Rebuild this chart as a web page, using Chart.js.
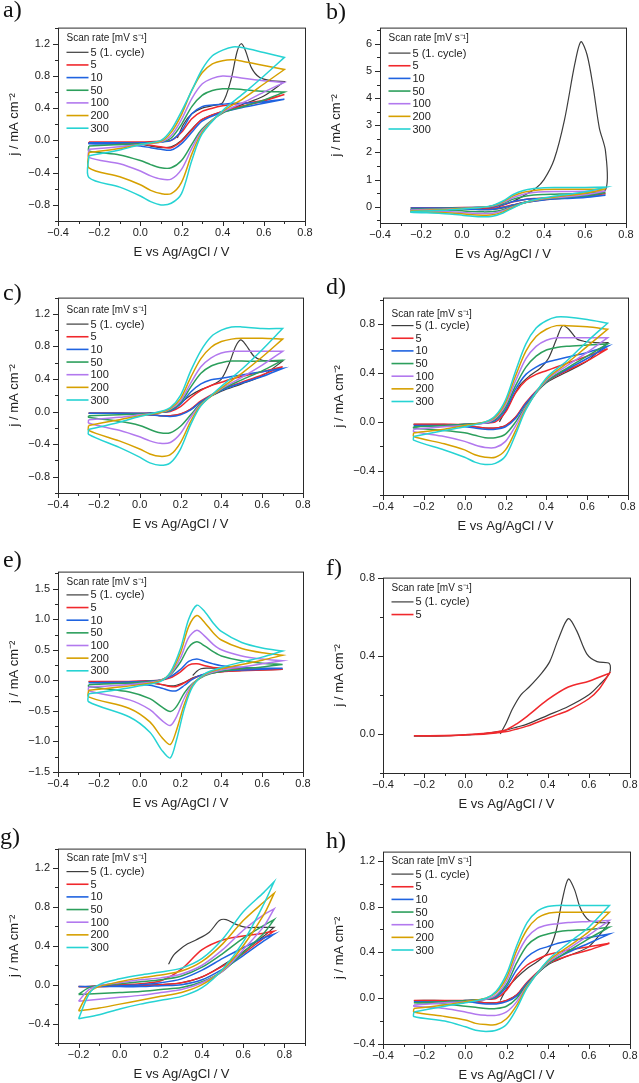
<!DOCTYPE html>
<html>
<head>
<meta charset="utf-8">
<script src="https://cdn.jsdelivr.net/npm/chart.js@4.4.1/dist/chart.umd.min.js"></script>
<style>
  body { margin: 0; width: 639px; height: 1083px; background: #fff; position: relative; overflow: hidden; }
  canvas { position: absolute; }
  .lbl { position: absolute; font-family: 'Liberation Serif', 'Times New Roman', serif; font-size: 24px; line-height: 24px; color: #111; }
</style>
</head>
<body>
<script>
// legend entries and colours
const SERIES = ['5 (1. cycle)', '5', '10', '50', '100', '200', '300'];
const COLORS = ['#3d3d3d', '#f0282c', '#1f63e0', '#2c9f5c', '#b279ee', '#d6a000', '#26d3d3'];

// potential grids (V) shared by panels a, b, c, d, h
const E_FWD = [-0.25, -0.1, 0.0, 0.1, 0.15, 0.2, 0.25, 0.3, 0.35, 0.4, 0.45, 0.5, 0.6, 0.7];
const E_REV = [0.7, 0.6, 0.5, 0.4, 0.3, 0.25, 0.2, 0.15, 0.1, 0.05, 0.0, -0.1, -0.25];

// ---- panel a ----
const A_FIRST_E = [0.18, 0.21, 0.25, 0.3, 0.35, 0.4, 0.44, 0.47, 0.49, 0.51, 0.54, 0.58, 0.64, 0.7];
const A_FIRST_J = [0.03, 0.2, 0.33, 0.4, 0.43, 0.47, 0.75, 1.1, 1.2, 1.12, 0.9, 0.78, 0.74, 0.73];
const A_FWD = [
  [-0.02, -0.02, -0.02, -0.01, 0.0, 0.1, 0.27, 0.36, 0.4, 0.43, 0.45, 0.46, 0.5, 0.57],
  [-0.03, -0.03, -0.03, -0.02, 0.0, 0.12, 0.33, 0.42, 0.44, 0.45, 0.46, 0.46, 0.48, 0.51],
  [-0.07, -0.05, -0.04, -0.02, 0.03, 0.2, 0.42, 0.56, 0.62, 0.64, 0.64, 0.63, 0.61, 0.6],
  [-0.11, -0.08, -0.05, -0.02, 0.06, 0.26, 0.52, 0.7, 0.77, 0.8, 0.79, 0.77, 0.74, 0.72],
  [-0.15, -0.1, -0.05, -0.01, 0.1, 0.32, 0.62, 0.84, 0.95, 0.99, 1.0, 0.98, 0.93, 0.88],
  [-0.19, -0.12, -0.05, 0.0, 0.13, 0.36, 0.62, 0.88, 1.05, 1.12, 1.16, 1.15, 1.09, 1.03]
];
const A_REV = [
  [0.73, 0.55, 0.45, 0.36, 0.26, 0.14, 0.0, -0.08, -0.09, -0.07, -0.05, -0.04, -0.03],
  [0.57, 0.49, 0.43, 0.36, 0.26, 0.13, -0.01, -0.09, -0.08, -0.06, -0.04, -0.03, -0.03],
  [0.51, 0.46, 0.41, 0.35, 0.24, 0.1, -0.04, -0.12, -0.11, -0.09, -0.07, -0.05, -0.04],
  [0.6, 0.5, 0.42, 0.34, 0.14, -0.05, -0.25, -0.34, -0.34, -0.3, -0.25, -0.18, -0.13],
  [0.72, 0.6, 0.47, 0.35, 0.12, -0.1, -0.36, -0.48, -0.48, -0.44, -0.38, -0.29, -0.21],
  [0.88, 0.7, 0.52, 0.36, 0.1, -0.17, -0.52, -0.66, -0.66, -0.62, -0.55, -0.45, -0.34],
  [1.03, 0.8, 0.58, 0.37, 0.08, -0.25, -0.66, -0.78, -0.8, -0.76, -0.69, -0.58, -0.46]
];

// ---- panel b ----
const B_FIRST_E = [0.18, 0.25, 0.3, 0.36, 0.4, 0.45, 0.5, 0.55, 0.58, 0.61, 0.64, 0.67, 0.7];
const B_FIRST_J = [0.0, 0.2, 0.4, 0.68, 1.0, 1.75, 3.2, 5.25, 6.08, 5.6, 4.4, 2.9, 2.05];
const B_FWD = [
  [-0.04, -0.04, -0.03, -0.02, 0.0, 0.07, 0.18, 0.26, 0.3, 0.32, 0.34, 0.36, 0.42, 0.48],
  [-0.05, -0.05, -0.04, -0.02, 0.0, 0.08, 0.19, 0.26, 0.29, 0.31, 0.33, 0.35, 0.38, 0.42],
  [-0.09, -0.07, -0.05, -0.02, 0.02, 0.12, 0.28, 0.38, 0.43, 0.45, 0.46, 0.47, 0.49, 0.52],
  [-0.12, -0.09, -0.06, -0.02, 0.03, 0.15, 0.34, 0.46, 0.52, 0.55, 0.56, 0.56, 0.57, 0.58],
  [-0.15, -0.11, -0.07, -0.02, 0.04, 0.18, 0.4, 0.53, 0.6, 0.63, 0.64, 0.64, 0.64, 0.65],
  [-0.18, -0.13, -0.08, -0.02, 0.05, 0.21, 0.45, 0.6, 0.67, 0.7, 0.71, 0.71, 0.71, 0.72]
];
const B_REV = [
  [0.62, 0.5, 0.4, 0.31, 0.16, 0.06, -0.04, -0.1, -0.11, -0.09, -0.07, -0.05, -0.05],
  [0.48, 0.38, 0.32, 0.26, 0.15, 0.07, -0.01, -0.06, -0.07, -0.06, -0.05, -0.04, -0.04],
  [0.42, 0.34, 0.3, 0.25, 0.15, 0.06, -0.03, -0.09, -0.1, -0.09, -0.07, -0.06, -0.05],
  [0.52, 0.4, 0.34, 0.28, 0.14, 0.02, -0.11, -0.18, -0.19, -0.18, -0.15, -0.12, -0.1],
  [0.58, 0.44, 0.36, 0.29, 0.14, 0.0, -0.15, -0.24, -0.25, -0.24, -0.21, -0.17, -0.14],
  [0.65, 0.5, 0.4, 0.31, 0.14, -0.02, -0.19, -0.3, -0.31, -0.3, -0.26, -0.21, -0.17],
  [0.72, 0.55, 0.44, 0.33, 0.14, -0.04, -0.23, -0.35, -0.37, -0.35, -0.31, -0.25, -0.2]
];

// ---- panel c ----
const C_FIRST_E = [0.165, 0.2, 0.25, 0.3, 0.35, 0.4, 0.44, 0.47, 0.495, 0.52, 0.56, 0.6, 0.65, 0.7];
const C_FIRST_J = [0.02, 0.1, 0.2, 0.27, 0.32, 0.4, 0.6, 0.8, 0.88, 0.82, 0.68, 0.63, 0.62, 0.62];
const C_FWD = [
  [-0.02, -0.02, -0.02, -0.01, 0.0, 0.06, 0.17, 0.26, 0.32, 0.36, 0.4, 0.43, 0.49, 0.55],
  [-0.02, -0.02, -0.02, -0.01, 0.01, 0.09, 0.24, 0.34, 0.39, 0.41, 0.43, 0.45, 0.49, 0.53],
  [-0.05, -0.04, -0.03, -0.01, 0.02, 0.11, 0.3, 0.47, 0.56, 0.6, 0.62, 0.62, 0.62, 0.63],
  [-0.1, -0.07, -0.04, -0.01, 0.03, 0.13, 0.35, 0.55, 0.66, 0.72, 0.74, 0.74, 0.74, 0.74],
  [-0.17, -0.1, -0.05, -0.01, 0.04, 0.16, 0.42, 0.65, 0.79, 0.86, 0.89, 0.9, 0.9, 0.89],
  [-0.22, -0.13, -0.06, 0.0, 0.05, 0.2, 0.5, 0.75, 0.92, 1.0, 1.04, 1.04, 1.02, 1.02]
];
const C_REV = [
  [0.62, 0.44, 0.34, 0.25, 0.12, 0.03, -0.03, -0.05, -0.05, -0.04, -0.03, -0.02, -0.02],
  [0.55, 0.45, 0.36, 0.27, 0.13, 0.03, -0.03, -0.05, -0.05, -0.04, -0.03, -0.02, -0.02],
  [0.53, 0.43, 0.35, 0.26, 0.12, 0.02, -0.04, -0.06, -0.05, -0.04, -0.03, -0.02, -0.02],
  [0.63, 0.5, 0.39, 0.27, 0.1, -0.04, -0.18, -0.26, -0.26, -0.22, -0.17, -0.12, -0.07],
  [0.74, 0.57, 0.42, 0.28, 0.09, -0.07, -0.27, -0.38, -0.39, -0.36, -0.31, -0.23, -0.14],
  [0.89, 0.67, 0.47, 0.29, 0.08, -0.12, -0.38, -0.53, -0.55, -0.52, -0.46, -0.36, -0.23],
  [1.02, 0.76, 0.52, 0.31, 0.07, -0.16, -0.46, -0.63, -0.66, -0.63, -0.56, -0.44, -0.28]
];

// ---- panel d ----
const D_FIRST_E = [0.17, 0.22, 0.27, 0.32, 0.37, 0.41, 0.45, 0.48, 0.51, 0.55, 0.59, 0.64, 0.7];
const D_FIRST_J = [0.0, 0.15, 0.3, 0.38, 0.44, 0.52, 0.68, 0.79, 0.76, 0.68, 0.66, 0.65, 0.65];
const D_FWD = [
  [-0.02, -0.02, -0.02, -0.01, 0.0, 0.08, 0.24, 0.34, 0.39, 0.42, 0.45, 0.48, 0.54, 0.6],
  [-0.03, -0.03, -0.02, -0.01, 0.01, 0.1, 0.27, 0.39, 0.45, 0.49, 0.51, 0.53, 0.57, 0.62],
  [-0.04, -0.03, -0.02, -0.01, 0.02, 0.12, 0.3, 0.45, 0.54, 0.59, 0.61, 0.62, 0.63, 0.64],
  [-0.06, -0.04, -0.03, -0.01, 0.03, 0.14, 0.34, 0.52, 0.62, 0.67, 0.69, 0.69, 0.69, 0.69],
  [-0.09, -0.06, -0.03, 0.0, 0.04, 0.16, 0.38, 0.58, 0.7, 0.76, 0.79, 0.79, 0.78, 0.76],
  [-0.12, -0.07, -0.04, 0.0, 0.05, 0.18, 0.42, 0.64, 0.77, 0.83, 0.86, 0.86, 0.84, 0.81]
];
const D_REV = [
  [0.65, 0.5, 0.41, 0.32, 0.15, 0.04, -0.03, -0.05, -0.05, -0.04, -0.03, -0.02, -0.02],
  [0.6, 0.5, 0.42, 0.33, 0.16, 0.04, -0.03, -0.05, -0.05, -0.04, -0.03, -0.02, -0.02],
  [0.62, 0.52, 0.43, 0.33, 0.15, 0.03, -0.04, -0.06, -0.06, -0.05, -0.04, -0.03, -0.03],
  [0.64, 0.54, 0.44, 0.33, 0.13, 0.0, -0.1, -0.13, -0.13, -0.11, -0.09, -0.07, -0.05],
  [0.69, 0.57, 0.46, 0.34, 0.12, -0.03, -0.16, -0.21, -0.21, -0.19, -0.16, -0.12, -0.08],
  [0.76, 0.62, 0.48, 0.35, 0.11, -0.07, -0.23, -0.29, -0.29, -0.27, -0.23, -0.18, -0.12],
  [0.81, 0.66, 0.5, 0.36, 0.1, -0.1, -0.28, -0.34, -0.35, -0.33, -0.29, -0.23, -0.15]
];

// ---- panel e ----
const E_FWD_E = [-0.25, -0.1, 0.0, 0.1, 0.15, 0.2, 0.24, 0.28, 0.32, 0.36, 0.4, 0.5, 0.6, 0.7];
const E_REV_E = [0.7, 0.6, 0.5, 0.4, 0.32, 0.26, 0.22, 0.18, 0.15, 0.11, 0.05, -0.05, -0.25];
const E_FIRST_E = [0.26, 0.28, 0.3, 0.33, 0.4, 0.5, 0.6, 0.7];
const E_FIRST_J = [0.08, 0.15, 0.19, 0.2, 0.2, 0.19, 0.18, 0.18];
const E_FWD_J = [
  [-0.02, -0.02, -0.01, 0.0, 0.04, 0.14, 0.25, 0.27, 0.24, 0.21, 0.2, 0.19, 0.18, 0.18],
  [-0.04, -0.03, -0.02, 0.0, 0.06, 0.18, 0.31, 0.35, 0.31, 0.27, 0.24, 0.21, 0.2, 0.2],
  [-0.07, -0.05, -0.03, 0.0, 0.09, 0.3, 0.54, 0.63, 0.56, 0.47, 0.4, 0.32, 0.28, 0.26],
  [-0.11, -0.08, -0.05, 0.0, 0.1, 0.37, 0.7, 0.82, 0.72, 0.59, 0.5, 0.4, 0.35, 0.32],
  [-0.16, -0.11, -0.07, -0.01, 0.12, 0.45, 0.88, 1.06, 0.94, 0.78, 0.66, 0.52, 0.45, 0.41],
  [-0.22, -0.15, -0.09, -0.02, 0.13, 0.52, 1.0, 1.23, 1.12, 0.94, 0.8, 0.62, 0.53, 0.48]
];
const E_REV_J = [
  [0.18, 0.17, 0.16, 0.14, 0.1, 0.04, -0.03, -0.08, -0.09, -0.07, -0.04, -0.03, -0.02],
  [0.18, 0.17, 0.16, 0.14, 0.1, 0.03, -0.04, -0.1, -0.1, -0.07, -0.04, -0.03, -0.02],
  [0.2, 0.18, 0.17, 0.15, 0.11, 0.02, -0.08, -0.17, -0.17, -0.13, -0.08, -0.05, -0.04],
  [0.26, 0.22, 0.19, 0.15, 0.08, -0.05, -0.2, -0.43, -0.51, -0.44, -0.3, -0.19, -0.1],
  [0.32, 0.27, 0.22, 0.17, 0.09, -0.06, -0.28, -0.6, -0.74, -0.66, -0.48, -0.32, -0.17],
  [0.41, 0.33, 0.26, 0.19, 0.1, -0.08, -0.38, -0.82, -1.05, -0.94, -0.68, -0.46, -0.27],
  [0.48, 0.38, 0.3, 0.21, 0.11, -0.1, -0.45, -0.98, -1.27, -1.15, -0.85, -0.6, -0.35]
];

// ---- panel f ----
const E_FWD_F = [-0.25, -0.1, 0.0, 0.1, 0.15, 0.2, 0.25, 0.3, 0.35, 0.4, 0.45, 0.5, 0.6, 0.65, 0.7];
const E_REV_F = [0.7, 0.65, 0.6, 0.5, 0.4, 0.3, 0.25, 0.2, 0.15, 0.1, 0.05, 0.0, -0.1, -0.25];
const F_FIRST_E = [0.17, 0.2, 0.23, 0.27, 0.31, 0.37, 0.41, 0.45, 0.5, 0.54, 0.59, 0.64, 0.7];
const F_FIRST_J = [0.0, 0.06, 0.13, 0.2, 0.24, 0.31, 0.37, 0.48, 0.59, 0.53, 0.41, 0.37, 0.36];
const F_FWD = [
  [-0.01, -0.01, -0.005, 0.0, 0.005, 0.012, 0.025, 0.04, 0.06, 0.08, 0.1, 0.12, 0.18, 0.23, 0.31]
];
const F_REV = [
  [0.31, 0.25, 0.2, 0.14, 0.095, 0.05, 0.035, 0.02, 0.01, 0.003, -0.002, -0.005, -0.01, -0.012],
  [0.31, 0.29, 0.27, 0.24, 0.175, 0.09, 0.052, 0.022, 0.01, 0.004, 0.0, -0.004, -0.008, -0.01]
];

// ---- panel g ----
const E_FWD_G = [-0.2, -0.15, -0.1, 0.0, 0.1, 0.2, 0.3, 0.4, 0.5, 0.6, 0.7, 0.75];
const E_REV_G = [0.75, 0.7, 0.6, 0.5, 0.4, 0.3, 0.2, 0.1, 0.0, -0.1, -0.2];
const G_FIRST_E = [0.237, 0.26, 0.29, 0.33, 0.37, 0.435, 0.484, 0.517, 0.565, 0.614, 0.68, 0.75];
const G_FIRST_J = [0.21, 0.3, 0.36, 0.42, 0.46, 0.54, 0.66, 0.67, 0.62, 0.59, 0.59, 0.59];
const G_FWD = [
  [-0.02, -0.02, -0.01, 0.0, 0.01, 0.04, 0.16, 0.36, 0.46, 0.5, 0.53, 0.55],
  [-0.02, -0.02, -0.02, -0.01, 0.0, 0.02, 0.06, 0.15, 0.27, 0.38, 0.48, 0.52],
  [-0.1, -0.03, -0.01, 0.01, 0.03, 0.05, 0.09, 0.18, 0.32, 0.48, 0.61, 0.67],
  [-0.17, -0.05, -0.01, 0.02, 0.05, 0.07, 0.11, 0.2, 0.36, 0.56, 0.72, 0.78],
  [-0.27, -0.08, -0.02, 0.03, 0.07, 0.1, 0.14, 0.24, 0.42, 0.66, 0.85, 0.94],
  [-0.35, -0.1, 0.0, 0.06, 0.1, 0.13, 0.17, 0.27, 0.47, 0.75, 0.95, 1.06]
];
const G_REV = [
  [0.59, 0.5, 0.34, 0.2, 0.08, 0.02, 0.0, -0.01, -0.01, -0.02, -0.02],
  [0.55, 0.48, 0.32, 0.19, 0.08, 0.02, 0.0, -0.01, -0.01, -0.02, -0.02],
  [0.52, 0.45, 0.3, 0.16, 0.05, 0.0, -0.01, -0.02, -0.02, -0.02, -0.02],
  [0.67, 0.53, 0.33, 0.14, 0.03, -0.03, -0.05, -0.07, -0.08, -0.09, -0.1],
  [0.78, 0.6, 0.36, 0.14, 0.02, -0.05, -0.08, -0.11, -0.13, -0.15, -0.17],
  [0.94, 0.72, 0.4, 0.15, 0.0, -0.08, -0.12, -0.16, -0.2, -0.24, -0.27],
  [1.06, 0.83, 0.44, 0.16, -0.03, -0.12, -0.16, -0.2, -0.25, -0.31, -0.35]
];

// ---- panel h ----
const H_FIRST_E = [0.17, 0.2, 0.25, 0.3, 0.35, 0.4, 0.44, 0.47, 0.5, 0.53, 0.56, 0.6, 0.65, 0.7];
const H_FIRST_J = [-0.02, 0.08, 0.18, 0.26, 0.32, 0.4, 0.58, 0.85, 1.04, 0.95, 0.78, 0.68, 0.66, 0.66];
const H_FWD = [
  [-0.02, -0.02, -0.02, -0.01, 0.0, 0.07, 0.2, 0.29, 0.34, 0.38, 0.4, 0.42, 0.45, 0.48],
  [-0.03, -0.03, -0.02, -0.01, 0.01, 0.1, 0.25, 0.36, 0.42, 0.45, 0.48, 0.5, 0.53, 0.56],
  [-0.04, -0.03, -0.02, -0.01, 0.02, 0.12, 0.31, 0.46, 0.53, 0.56, 0.58, 0.59, 0.6, 0.62],
  [-0.06, -0.04, -0.03, -0.01, 0.03, 0.15, 0.37, 0.53, 0.61, 0.64, 0.65, 0.66, 0.67, 0.68],
  [-0.09, -0.06, -0.03, 0.0, 0.05, 0.18, 0.42, 0.6, 0.7, 0.74, 0.75, 0.75, 0.75, 0.75],
  [-0.12, -0.07, -0.04, 0.0, 0.06, 0.21, 0.46, 0.66, 0.76, 0.8, 0.81, 0.81, 0.81, 0.81]
];
const H_REV = [
  [0.66, 0.45, 0.37, 0.29, 0.13, 0.03, -0.02, -0.04, -0.04, -0.03, -0.03, -0.02, -0.02],
  [0.48, 0.42, 0.37, 0.3, 0.14, 0.03, -0.02, -0.04, -0.04, -0.03, -0.03, -0.02, -0.02],
  [0.56, 0.48, 0.4, 0.3, 0.13, 0.02, -0.03, -0.05, -0.05, -0.04, -0.03, -0.03, -0.03],
  [0.62, 0.52, 0.41, 0.3, 0.12, 0.0, -0.07, -0.09, -0.09, -0.08, -0.07, -0.05, -0.04],
  [0.68, 0.55, 0.43, 0.31, 0.11, -0.03, -0.12, -0.15, -0.15, -0.14, -0.12, -0.09, -0.07],
  [0.75, 0.58, 0.45, 0.32, 0.1, -0.06, -0.18, -0.23, -0.23, -0.22, -0.19, -0.16, -0.12],
  [0.81, 0.62, 0.48, 0.33, 0.09, -0.09, -0.23, -0.28, -0.29, -0.28, -0.25, -0.2, -0.16]
];

const FONT = "'Liberation Sans', Arial, sans-serif";
Chart.defaults.font.family = FONT;
Chart.defaults.color = '#222';

// plot frame position on the page: [left, right, top, bottom]
// x: [min, max, minor, major], y: [min, max, minor, major, decimals]
const PANELS = [
  { name: 'a)', lbl: [3, -3], area: [58, 305, 23, 221], x: [-0.4, 0.8, 0.1, 0.2], y: [-1.0, 1.4, 0.2, 0.4, 1], leg: [10.7, 24.7],
    fE: E_FWD, rE: E_REV, firstE: A_FIRST_E, firstJ: A_FIRST_J, fwd: A_FWD, rev: A_REV },
  { name: 'b)', lbl: [326, -1], area: [380, 626, 23, 223], x: [-0.4, 0.8, 0.1, 0.2], y: [-0.6, 6.6, 0.5, 1, 0], leg: [10.7, 25.5],
    fE: E_FWD, rE: E_REV, firstE: B_FIRST_E, firstJ: B_FIRST_J, fwd: B_FWD, rev: B_REV },
  { name: 'c)', lbl: [3, 280], area: [58, 303, 293, 493], x: [-0.4, 0.8, 0.1, 0.2], y: [-1.0, 1.4, 0.2, 0.4, 1], leg: [12.3, 26.5],
    fE: E_FWD, rE: E_REV, firstE: C_FIRST_E, firstJ: C_FIRST_J, fwd: C_FWD, rev: C_REV },
  { name: 'd)', lbl: [326, 274], area: [383, 628, 293, 495], x: [-0.4, 0.8, 0.1, 0.2], y: [-0.6, 1.02, 0.2, 0.4, 1], leg: [16.5, 28],
    fE: E_FWD, rE: E_REV, firstE: D_FIRST_E, firstJ: D_FIRST_J, fwd: D_FWD, rev: D_REV },
  { name: 'e)', lbl: [3, 547], area: [58, 303, 567, 772], x: [-0.4, 0.8, 0.1, 0.2], y: [-1.5, 1.78, 0.25, 0.5, 1], leg: [10.7, 23.3],
    fE: E_FWD_E, rE: E_REV_E, firstE: E_FIRST_E, firstJ: E_FIRST_J, fwd: E_FWD_J, rev: E_REV_J },
  { name: 'f)', lbl: [326, 555], area: [383, 630, 573, 773], x: [-0.4, 0.8, 0.1, 0.2], y: [-0.2, 0.8, 0.2, 0.4, 1], leg: [11, 24.3],
    fE: E_FWD_F, rE: E_REV_F, firstE: F_FIRST_E, firstJ: F_FIRST_J, fwd: F_FWD, rev: F_REV },
  { name: 'g)', lbl: [0, 824], area: [58, 305, 844, 1043], x: [-0.3, 0.9, 0.1, 0.2], y: [-0.6, 1.4, 0.2, 0.4, 1], leg: [10, 23],
    fE: E_FWD_G, rE: E_REV_G, firstE: G_FIRST_E, firstJ: G_FIRST_J, fwd: G_FWD, rev: G_REV },
  { name: 'h)', lbl: [326, 828], area: [383, 630, 847, 1044], x: [-0.4, 0.8, 0.1, 0.2], y: [-0.4, 1.28, 0.2, 0.4, 1], leg: [10, 22.5],
    fE: E_FWD, rE: E_REV, firstE: H_FIRST_E, firstJ: H_FIRST_J, fwd: H_FWD, rev: H_REV }
];

const isMult = (v, s) => Math.abs(v / s - Math.round(v / s)) < 1e-6;
const fmt = (v, dec) => (v < -1e-9 ? '\u2212' : '') + Math.abs(v).toFixed(dec);

// every multiple of step inside [min, max]
function steps(min, max, step) {
  const out = [];
  for (let k = Math.ceil(min / step - 1e-6); k * step <= max + 1e-6; k++) out.push(Math.round(k * step * 1e6) / 1e6);
  return out;
}

function pts(es, js) {
  return es.map((x, i) => ({ x: x, y: js[i] }));
}

// box round the plot area plus outward major / minor ticks
const framePlugin = {
  id: 'frame',
  afterDatasetsDraw(chart) {
    const { ctx, chartArea: a, scales } = chart;
    const p = chart.options.plugins.frame;
    ctx.save();
    ctx.strokeStyle = '#2a2a2a';
    ctx.lineWidth = 1;
    ctx.strokeRect(a.left + 0.5, a.top + 0.5, a.right - a.left, a.bottom - a.top);
    ctx.beginPath();
    steps(p.x[0], p.x[1], p.x[2]).forEach(v => {
      const px = Math.round(scales.x.getPixelForValue(v)) + 0.5;
      const len = isMult(v, p.x[3]) ? 5 : 3;
      ctx.moveTo(px, a.bottom); ctx.lineTo(px, a.bottom + len);
    });
    steps(p.y[0], p.y[1], p.y[2]).forEach(v => {
      const py = Math.round(scales.y.getPixelForValue(v)) + 0.5;
      const len = isMult(v, p.y[3]) ? 5 : 3;
      ctx.moveTo(a.left, py); ctx.lineTo(a.left - len, py);
    });
    ctx.stroke();
    ctx.restore();
  }
};

// in-plot legend with its title
const legendPlugin = {
  id: 'cvlegend',
  afterDraw(chart) {
    const { ctx, chartArea: a } = chart;
    const o = chart.options.plugins.cvlegend;
    ctx.save();
    ctx.textBaseline = 'middle';
    ctx.fillStyle = '#222';
    ctx.font = '10px ' + FONT;
    ctx.fillText('Scan rate [mV s\u207B\u00B9]', a.left + 8.5, a.top + o.dy[0]);
    ctx.font = '11px ' + FONT;
    o.items.forEach((k, i) => {
      const y = a.top + o.dy[1] + i * 12.65;
      ctx.strokeStyle = COLORS[k];
      ctx.lineWidth = k === 0 ? 1.2 : 1.6;
      ctx.beginPath();
      ctx.moveTo(a.left + 8.5, y); ctx.lineTo(a.left + 30.5, y);
      ctx.stroke();
      ctx.fillText(SERIES[k], a.left + 32.5, y + 0.5);
    });
    ctx.restore();
  }
};

PANELS.forEach(p => {
  const [l, r, t, b] = p.area;
  const yW = 55, xH = 43, padT = 10, padR = 14, padB = 6;
  const cv = document.createElement('canvas');
  cv.width = (r - l) + yW + padR;
  cv.height = (b - t) + padT + xH + padB;
  cv.style.left = (l - yW) + 'px';
  cv.style.top = (t - padT) + 'px';
  document.body.appendChild(cv);

  const lab = document.createElement('div');
  lab.className = 'lbl';
  lab.textContent = p.name;
  lab.style.left = p.lbl[0] + 'px';
  lab.style.top = p.lbl[1] + 'px';
  document.body.appendChild(lab);

  const items = [];
  const datasets = [];
  const n = p.rev.length;
  for (let k = 0; k < n; k++) {
    items.push(k);
    let data;
    if (k === 0) {
      data = pts(p.firstE, p.firstJ).concat(pts(p.rE, p.rev[0]));
    } else {
      const f = p.fwd[k - 1];
      data = pts(p.fE, f).concat(pts(p.rE, p.rev[k]));
      data.push({ x: p.fE[0], y: f[0] });
    }
    datasets.unshift({
      label: SERIES[k],
      data: data,
      showLine: true,
      borderColor: COLORS[k],
      borderWidth: k === 0 ? 1.2 : 1.5,
      pointRadius: 0,
      tension: 0.3,
      fill: false
    });
  }

  new Chart(cv.getContext('2d'), {
    type: 'scatter',
    data: { datasets: datasets },
    options: {
      responsive: false,
      animation: false,
      devicePixelRatio: 1,
      layout: { padding: { left: 0, top: padT, right: padR, bottom: padB } },
      plugins: {
        legend: { display: false },
        tooltip: { enabled: false },
        frame: { x: p.x, y: p.y },
        cvlegend: { dy: p.leg, items: items }
      },
      scales: {
        x: {
          type: 'linear',
          min: p.x[0], max: p.x[1],
          grid: { display: false, drawTicks: false },
          border: { display: false },
          afterFit: s => { s.height = xH; },
          afterBuildTicks: s => { s.ticks = steps(p.x[0], p.x[1], p.x[3]).map(v => ({ value: v })); },
          ticks: {
            autoSkip: false, maxRotation: 0, padding: 5,
            font: { size: 11 }, color: '#222',
            callback: v => fmt(v, 1)
          },
          title: { display: true, text: 'E vs Ag/AgCl / V', font: { size: 13 }, color: '#222', padding: { top: 0, bottom: 4 } }
        },
        y: {
          type: 'linear',
          min: p.y[0], max: p.y[1],
          grid: { display: false, drawTicks: false },
          border: { display: false },
          afterFit: s => { s.width = yW; },
          afterBuildTicks: s => { s.ticks = steps(p.y[0], p.y[1], p.y[3]).map(v => ({ value: v })); },
          ticks: {
            autoSkip: false, padding: 8,
            font: { size: 11 }, color: '#222',
            callback: v => fmt(v, p.y[4])
          },
          title: { display: true, text: 'j / mA cm\u207B\u00B2', font: { size: 13 }, color: '#222', padding: { top: 4, bottom: 0 } }
        }
      }
    },
    plugins: [framePlugin, legendPlugin]
  });
});
</script>
</body>
</html>
